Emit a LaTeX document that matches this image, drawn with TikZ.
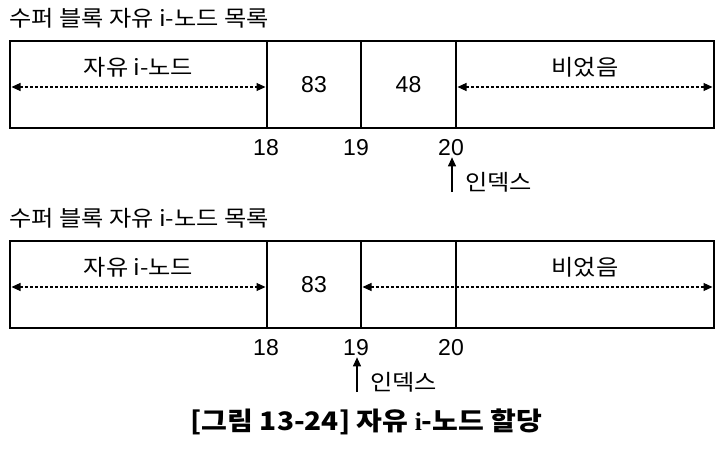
\documentclass[tikz,border=0pt]{standalone}
\usepackage{fontspec}
\setmainfont{Liberation Sans}
\newfontfamily\kr{Noto Sans CJK KR}[FakeStretch=1.1]
\newfontfamily\serifi{Liberation Serif}
\usetikzlibrary{arrows.meta,positioning}
\tikzset{%
  cell/.style  = {shape=rectangle, draw, line width=1.3pt,%
                  inner sep=0pt, outer sep=0pt, minimum height=87pt},%
  span/.style  = {{Triangle[length=9pt,width=8pt]}-{Triangle[length=9pt,width=8pt]},%
                  line width=1.1pt, dash pattern=on 3pt off 2pt,%
                  shorten <=1.5pt, shorten >=1.5pt},%
  ptr/.style   = {-{Triangle[length=9pt,width=8pt]}, line width=1.1pt},%
  tag/.style   = {font=\kr\fontsize{22}{26}\selectfont, inner sep=1pt},%
  num/.style   = {font=\fontsize{23}{26}\selectfont, inner sep=1pt}%
}

\begin{document}
\begin{tikzpicture}[x=1pt,y=-1pt]
\useasboundingbox (0,0) rectangle (727,457);
% before: index at 20
\begin{scope}
	\node [tag,anchor=west] (title1) at (8,18) {수퍼 블록 자유 i-노드 목록};
	\node [cell,anchor=north west,minimum width=257pt] (a1) at (10,41) {};
	\node [cell,minimum width=94pt,right=0pt of a1] (b1) {};
	\node [cell,minimum width=95pt,right=0pt of b1] (c1) {};
	\node [cell,minimum width=258pt,right=0pt of c1] (d1) {};
	\node [tag] (free1) at ([yshift=-26pt]a1.north) {자유 i-노드};
	\node [tag] (empty1) at ([yshift=-26pt]d1.north) {비었음};
	\node [num] (v83a) at (b1.center) {83};
	\node [num] (v48) at (c1.center) {48};
	\draw [span] ([yshift=-2.5pt]a1.west) -- ([yshift=-2.5pt]a1.east);
	\draw [span] ([yshift=-2.5pt]d1.west) -- ([yshift=-2.5pt]d1.east);
	\node [num] (i18a) at ([xshift=-1pt,yshift=-20pt]a1.south east) {18};
	\node [num] (i19a) at ([xshift=-5pt,yshift=-20pt]b1.south east) {19};
	\node [num] (i20a) at ([xshift=-5pt,yshift=-20pt]c1.south east) {20};
	\coordinate (p1) at (452,192);
	\draw [ptr] (p1) -- (p1 |- i20a.south);
	\node [tag,anchor=west] (idx1) at ([xshift=12pt,yshift=10pt]p1) {인덱스};
\end{scope}
% after: index at 19
\begin{scope}[yshift=-200pt]
	\node [tag,anchor=west] (title2) at (8,18) {수퍼 블록 자유 i-노드 목록};
	\node [cell,anchor=north west,minimum width=257pt] (a2) at (10,41) {};
	\node [cell,minimum width=94pt,right=0pt of a2] (b2) {};
	\node [cell,minimum width=95pt,right=0pt of b2] (c2) {};
	\node [cell,minimum width=258pt,right=0pt of c2] (d2) {};
	\node [tag] (free2) at ([yshift=-26pt]a2.north) {자유 i-노드};
	\node [tag] (empty2) at ([yshift=-26pt]d2.north) {비었음};
	\node [num] (v83b) at (b2.center) {83};
	\draw [span] ([yshift=-2.5pt]a2.west) -- ([yshift=-2.5pt]a2.east);
	\draw [span] ([yshift=-2.5pt]c2.west) -- ([yshift=-2.5pt]d2.east);
	\node [num] (i18b) at ([xshift=-1pt,yshift=-20pt]a2.south east) {18};
	\node [num] (i19b) at ([xshift=-5pt,yshift=-20pt]b2.south east) {19};
	\node [num] (i20b) at ([xshift=-5pt,yshift=-20pt]c2.south east) {20};
	\coordinate (p2) at (357,192);
	\draw [ptr] (p2) -- (p2 |- i19b.south);
	\node [tag,anchor=west] (idx2) at ([xshift=12pt,yshift=10pt]p2) {인덱스};
\end{scope}
\node [font=\kr\bfseries\fontsize{25.5}{30}\selectfont,inner sep=1pt] (cap) at (366.5,422)
	{[그림 13-24] 자유 {\serifi\bfseries i}-노드 할당};
\end{tikzpicture}
\end{document}
